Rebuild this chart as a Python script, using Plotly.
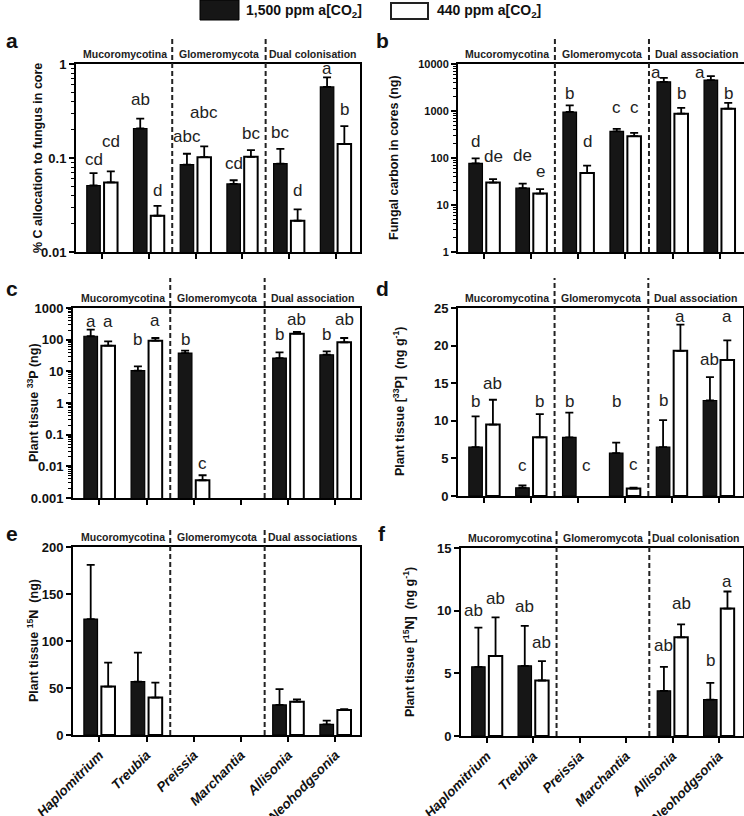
import math
import plotly.graph_objects as go

W, H = 744, 816
FONT = "Liberation Sans, Arial, sans-serif"

# ---------------- data ----------------
categories = ["Haplomitrium", "Treubia", "Preissia", "Marchantia", "Allisonia", "Neohodgsonia"]
series_names = ["1,500 ppm a[CO2]", "440 ppm a[CO2]"]

# (a) % C allocation to fungus in core
a_high = [0.051, 0.206, 0.085, 0.053, 0.087, 0.571]
a_high_se = [0.018, 0.056, 0.026, 0.005, 0.038, 0.149]
a_low = [0.055, 0.0243, 0.102, 0.103, 0.0215, 0.141]
a_low_se = [0.017, 0.0067, 0.031, 0.018, 0.0069, 0.077]
a_high_letters = ["cd", "ab", "abc", "cd", "bc", "a"]
a_low_letters = ["cd", "d", "abc", "bc", "d", "b"]

# (b) Fungal carbon in cores (ng)
b_high = [77, 22.8, 952, 367, 4180, 4540]
b_high_se = [21, 5.8, 370, 51, 910, 990]
b_low = [30, 17.5, 47.7, 291, 877, 1122]
b_low_se = [5.5, 4.2, 20.8, 52, 283, 362]
b_high_letters = ["d", "de", "b", "c", "a", "a"]
b_low_letters = ["de", "e", "d", "c", "b", "b"]

# (c) Plant tissue 33P (ng)
c_high = [128, 10.6, 37.8, None, 26.2, 33.4]
c_high_se = [79, 3.7, 7.0, None, 13.5, 9.3]
c_low = [64.6, 93, 0.00363, None, 155, 82.3]
c_low_se = [23.4, 20, 0.0016, None, 20, 30.7]
c_high_letters = ["a", "b", "b", "", "b", "b"]
c_low_letters = ["a", "a", "c", "", "ab", "ab"]

# (d) Plant tissue [33P] (ng g-1)
d_high = [6.5, 1.1, 7.8, 5.7, 6.5, 12.7]
d_high_se = [4.1, 0.3, 3.3, 1.4, 3.6, 3.1]
d_low = [9.5, 7.8, None, 1.0, 19.3, 18.1]
d_low_se = [3.3, 3.1, None, 0.1, 3.5, 2.6]
d_high_letters = ["b", "c", "b", "b", "b", "ab"]
d_low_letters = ["ab", "b", "c", "c", "a", "a"]

# (e) Plant tissue 15N (ng)
e_high = [123.3, 56.8, None, None, 32, 11.4]
e_high_se = [57.7, 30.9, None, None, 16.7, 3.9]
e_low = [51.5, 39.8, None, None, 35.5, 26.6]
e_low_se = [25.5, 16, None, None, 2.5, 0.8]
e_high_letters = ["", "", "", "", "", ""]
e_low_letters = ["", "", "", "", "", ""]

# (f) Plant tissue [15N] (ng g-1)
f_high = [5.52, 5.6, None, None, 3.6, 2.91]
f_high_se = [3.13, 3.18, None, None, 1.92, 1.33]
f_low = [6.38, 4.43, None, None, 7.87, 10.17]
f_low_se = [3.09, 1.55, None, None, 1.04, 1.36]
f_high_letters = ["ab", "ab", "", "", "ab", "b"]
f_low_letters = ["ab", "ab", "", "", "ab", "a"]

groups_assoc = ["Mucoromycotina", "Glomeromycota", "Dual association"]
groups_colon = ["Mucoromycotina", "Glomeromycota", "Dual colonisation"]
groups_assocs = ["Mucoromycotina", "Glomeromycota", "Dual associations"]

# ---------------- layout / style (pixels) ----------------
# letter lifts: px of letter centre above the whisker top (style only)
lift = {
    "a": ([14, 19, 17, 17, 16, 9], [30, 15, 34, 17, 19, 17]),
    "b": ([17, 28, 12, 21, 5, 4], [23, 18, 24, 25, 14, 9]),
    "c": ([8, 27, 11, 0, 18, 17], [20, 17, 12, 0, 12, 18]),
    "d": ([15, 20, 11, 41, 20, 18], [16, 13, 31, 23, 8, 24]),
    "e": ([0] * 6, [0] * 6),
    "f": ([17, 19, 0, 0, 21, 22], [19, 19, 0, 0, 21, 10]),
}
xshift_hi = {"b": [0, 0, 0, 0, -8, -11], "f": [-5, 0, 0, 0, 0, 0]}

panels = [
    dict(k="a", box=(76, 360, 64, 252), hi=a_high, hise=a_high_se, lo=a_low, lose=a_low_se,
         hl=a_high_letters, ll=a_low_letters, log=True, rng=[-2, 0],
         tv=[0.01, 0.1, 1], tt=["0.01", "0.1", "1"], groups=groups_colon,
         title="% C allocation to fungus in core", tx=38, dash_top=25, lbl=(12, 40), tfs=13),
    dict(k="b", box=(458, 744, 64, 252), hi=b_high, hise=b_high_se, lo=b_low, lose=b_low_se,
         hl=b_high_letters, ll=b_low_letters, log=True, rng=[0, 4],
         tv=[1, 10, 100, 1000, 10000], tt=["1", "10", "100", "1000", "10000"], groups=groups_assoc,
         title="Fungal carbon in cores (ng)", tx=394, dash_top=25, lbl=(382, 40), tfs=11),
    dict(k="c", box=(73, 360, 308, 498), hi=c_high, hise=c_high_se, lo=c_low, lose=c_low_se,
         hl=c_high_letters, ll=c_low_letters, log=True, rng=[-3, 3],
         tv=[0.001, 0.01, 0.1, 1, 10, 100, 1000], tt=["0.001", "0.01", "0.1", "1", "10", "100", "1000"],
         groups=groups_assoc, title="Plant tissue <sup>33</sup>P (ng)", tx=33, dash_top=30, lbl=(12, 288), tfs=13),
    dict(k="d", box=(458, 743, 308, 496), hi=d_high, hise=d_high_se, lo=d_low, lose=d_low_se,
         hl=d_high_letters, ll=d_low_letters, log=False, rng=[0, 25],
         tv=[0, 5, 10, 15, 20, 25], tt=["0", "5", "10", "15", "20", "25"], groups=groups_assoc,
         title="Plant tissue [<sup>33</sup>P]  (ng g<sup>-1</sup>)", tx=399, dash_top=30, lbl=(382, 288), tfs=13),
    dict(k="e", box=(73, 360, 547, 735), hi=e_high, hise=e_high_se, lo=e_low, lose=e_low_se,
         hl=e_high_letters, ll=e_low_letters, log=False, rng=[0, 200],
         tv=[0, 50, 100, 150, 200], tt=["0", "50", "100", "150", "200"], groups=groups_assocs,
         title="Plant tissue <sup>15</sup>N  (ng)", tx=33, dash_top=18, lbl=(12, 533), tfs=13),
    dict(k="f", box=(461, 743, 548, 736), hi=f_high, hise=f_high_se, lo=f_low, lose=f_low_se,
         hl=f_high_letters, ll=f_low_letters, log=False, rng=[0, 15],
         tv=[0, 5, 10, 15], tt=["0", "5", "10", "15"], groups=groups_colon,
         title="Plant tissue [<sup>15</sup>N]  (ng g<sup>-1</sup>)", tx=409, dash_top=18, lbl=(382, 533), tfs=13),
]

XR = [-0.56, 5.52]
OFF = 0.185
BLACK = "#161616"

fig = go.Figure()
layout = {}
annotations = []
shapes = []
cat_x = list(range(len(categories)))

for i, p in enumerate(panels):
    n = "" if i == 0 else str(i + 1)
    xa, ya = "x" + n, "y" + n
    x0, x1, y0, y1 = p["box"]
    ph = y1 - y0
    for vals, ses, fill, lw, grp in [(p["hi"], p["hise"], BLACK, 1.2, "hi"),
                                     (p["lo"], p["lose"], "white", 2, "lo")]:
        fig.add_trace(go.Bar(
            x=cat_x, y=vals, xaxis=xa, yaxis=ya, offsetgroup=grp, showlegend=False,
            marker=dict(color=fill, line=dict(color="black", width=lw)),
            error_y=dict(type="data", symmetric=False, array=ses,
                         arrayminus=[0 if s is not None else None for s in ses],
                         color="black", thickness=1.8, width=4),
        ))
    minor = None
    if p["log"]:
        lo_e, hi_e = p["rng"]
        minor = dict(ticks="outside", ticklen=3, tickwidth=1, tickcolor="black",
                     tickvals=[m * 10 ** e for e in range(lo_e, hi_e) for m in range(2, 10)])
    is_bottom = p["k"] in ("e", "f")
    xd = dict(
        domain=[x0 / W, min(x1 / W, 1.0)], anchor=ya, range=XR, showgrid=False, zeroline=False,
        showline=True, linecolor="black", linewidth=2, mirror=True, automargin=False,
        ticks="outside", ticklen=5, tickwidth=1.8, tickcolor="black",
        tickvals=cat_x, showticklabels=is_bottom,
    )
    if is_bottom:
        xd.update(ticktext=[f"<b><i>{c}</i></b>" for c in categories], tickangle=-45,
                  tickfont=dict(family=FONT, size=13.5, color="#111"))
    layout["xaxis" + n] = xd
    ya_dict = dict(
        domain=[1 - y1 / H, 1 - y0 / H], anchor=xa, range=p["rng"], showgrid=False,
        zeroline=False, showline=True, linecolor="black", linewidth=2, mirror=True,
        automargin=False,
        ticks="outside", ticklen=5, tickwidth=1.8, tickcolor="black",
        tickvals=p["tv"], ticktext=[f"<b>{t}</b>" for t in p["tt"]],
        tickfont=dict(family=FONT, size=p["tfs"], color="#111"),
    )
    if p["log"]:
        ya_dict["type"] = "log"
        ya_dict["minor"] = minor
    layout["yaxis" + n] = ya_dict

    # dashed separators
    for xs in (1.5, 3.5):
        shapes.append(dict(type="line", xref=xa, yref=ya + " domain", x0=xs, x1=xs,
                           y0=0, y1=1 + p["dash_top"] / ph,
                           line=dict(color="#222", width=2, dash="5px,3px")))
    # group headers
    for gx, g in zip([(XR[0] + 1.5) / 2 + 0.02, 2.5, (3.5 + XR[1]) / 2], p["groups"]):
        annotations.append(dict(text=f"<b>{g}</b>", xref=xa, yref=ya + " domain", x=gx,
                                y=1 + 10 / ph, showarrow=False, xanchor="center", yanchor="middle",
                                font=dict(family=FONT, size=10.5, color="#222")))
    # y titles
    annotations.append(dict(text=f"<b>{p['title']}</b>", xref="paper", yref=ya + " domain",
                            x=p["tx"] / W, y=0.5, textangle=-90, showarrow=False,
                            xanchor="center", yanchor="middle",
                            font=dict(family=FONT, size=12.5, color="#111")))
    # panel letters
    annotations.append(dict(text=f"<b>{p['k']}</b>", xref="paper", yref="paper",
                            x=p["lbl"][0] / W, y=1 - p["lbl"][1] / H, showarrow=False,
                            xanchor="center", yanchor="middle",
                            font=dict(family=FONT, size=21, color="#111")))
    # significance letters
    lh, ll = lift[p["k"]]
    xsh = xshift_hi.get(p["k"], [0] * 6)
    for side, vals, ses, lets, lifts, dx, xs_l in [
        ("hi", p["hi"], p["hise"], p["hl"], lh, -OFF, xsh),
        ("lo", p["lo"], p["lose"], p["ll"], ll, OFF, [0] * 6),
    ]:
        for j, lt in enumerate(lets):
            if not lt:
                continue
            v = vals[j]
            top = None if v is None else v + (ses[j] or 0)
            if p["log"]:
                yv = math.log10(top)
            else:
                yv = 0 if top is None else top
            annotations.append(dict(text=lt, xref=xa, yref=ya, x=j + dx, y=yv,
                                    showarrow=False, xanchor="center", yanchor="middle",
                                    yshift=lifts[j], xshift=xs_l[j],
                                    font=dict(family=FONT, size=17, color="#222")))

# legend (drawn manually)
shapes.append(dict(type="rect", xref="paper", yref="paper", x0=200 / W, x1=239 / W,
                   y0=1 - 20 / H, y1=1.0, fillcolor=BLACK, line=dict(color="black", width=1)))
shapes.append(dict(type="rect", xref="paper", yref="paper", x0=391 / W, x1=428 / W,
                   y0=1 - 19 / H, y1=1 - 3 / H, fillcolor="white", line=dict(color="#222", width=2)))
annotations.append(dict(text="<b>1,500 ppm a[CO<sub>2</sub>]</b>", xref="paper", yref="paper",
                        x=244 / W, y=1 - 11 / H, showarrow=False, xanchor="left", yanchor="middle",
                        font=dict(family=FONT, size=14, color="#111")))
annotations.append(dict(text="<b>440 ppm a[CO<sub>2</sub>]</b>", xref="paper", yref="paper",
                        x=435 / W, y=1 - 11 / H, showarrow=False, xanchor="left", yanchor="middle",
                        font=dict(family=FONT, size=14, color="#111")))

fig.update_layout(
    width=W, height=H, margin=dict(l=0, r=0, t=0, b=0, autoexpand=False),
    paper_bgcolor="white", plot_bgcolor="white",
    barmode="group", bargap=0.26, bargroupgap=0.22,
    font=dict(family=FONT, color="#111"),
    annotations=annotations, shapes=shapes, showlegend=False,
)
fig.update_layout(**layout)

fig.write_html(
    "out.html",
    config={"displayModeBar": False},
    post_script="document.body.style.margin='0';document.body.style.overflow='hidden';",
)
